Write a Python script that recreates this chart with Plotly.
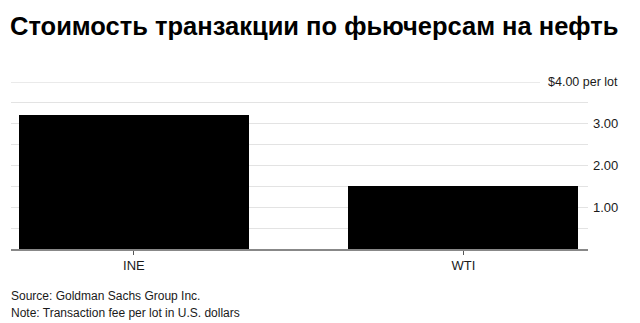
import plotly.graph_objects as go

categories = ["INE", "WTI"]
fees = [3.21, 1.51]
grid_vals = [0.5, 1.0, 1.5, 2.0, 2.5, 3.0, 3.5]
label_vals = [1.0, 2.0, 3.0]
label_text = ["1.00", "2.00", "3.00"]
top_val = 4.0
top_text = "$4.00 per lot"
title = "Стоимость транзакции по фьючерсам на нефть"
source = "Source: Goldman Sachs Group Inc."
note = "Note: Transaction fee per lot in U.S. dollars"

W, H = 640, 323
L, R, T, B = 11, 52, 82, 74
plot_w = W - L - R
plot_h = H - T - B

fig = go.Figure()
fig.add_trace(go.Bar(x=categories, y=fees, marker=dict(color="#000000", line=dict(width=0)),
                     width=0.698, hoverinfo="skip"))

font = "Liberation Sans, Arial, Helvetica, sans-serif"
txt_color = "#1a1a1a"

annotations = []
lab_x = 1 + (620 - (W - R)) / plot_w
for v, t in zip(label_vals, label_text):
    annotations.append(dict(x=lab_x, xref="paper", y=v, yref="y", text=t, showarrow=False,
                            xanchor="right", yanchor="middle",
                            font=dict(family=font, size=13, color=txt_color)))
annotations.append(dict(x=lab_x, xref="paper", y=top_val, yref="y", text=top_text, showarrow=False,
                        xanchor="right", yanchor="middle",
                        font=dict(family=font, size=12.5, color=txt_color)))
annotations.append(dict(x=0, xref="paper", xshift=-2, y=(T + plot_h - 296) / plot_h, yref="paper", text=source,
                        showarrow=False, xanchor="left", yanchor="middle",
                        font=dict(family=font, size=12, color=txt_color)))
annotations.append(dict(x=0, xref="paper", xshift=-2, y=(T + plot_h - 313) / plot_h, yref="paper", text=note,
                        showarrow=False, xanchor="left", yanchor="middle",
                        font=dict(family=font, size=12, color=txt_color)))

shapes = [dict(type="line", xref="paper", yref="y", x0=0, x1=(540 - L) / plot_w, y0=top_val, y1=top_val,
               line=dict(color="#e3e3e3", width=1.3), layer="below")]

fig.update_layout(
    width=W, height=H,
    margin=dict(l=L, r=R, t=T, b=B, pad=0),
    paper_bgcolor="white", plot_bgcolor="white",
    showlegend=False,
    title=dict(text="<b>" + title + "</b>", x=10 / W, xanchor="left", y=1 - 17 / H, yanchor="top",
               font=dict(family=font, size=25.5, color="#000000")),
    xaxis=dict(range=[-0.373, 1.378], showgrid=False, showline=True, linecolor="#888888", linewidth=1.5,
               ticks="outside", ticklen=4, tickcolor="#555555", tickwidth=1,
               tickfont=dict(family=font, size=13, color=txt_color), zeroline=False, fixedrange=True),
    yaxis=dict(range=[0, top_val], tickvals=grid_vals, showticklabels=False, showgrid=True,
               gridcolor="#e3e3e3", gridwidth=1.3, zeroline=False, showline=False, fixedrange=True),
    annotations=annotations,
    shapes=shapes,
    bargap=0,
)

fig.write_html("out.html")
